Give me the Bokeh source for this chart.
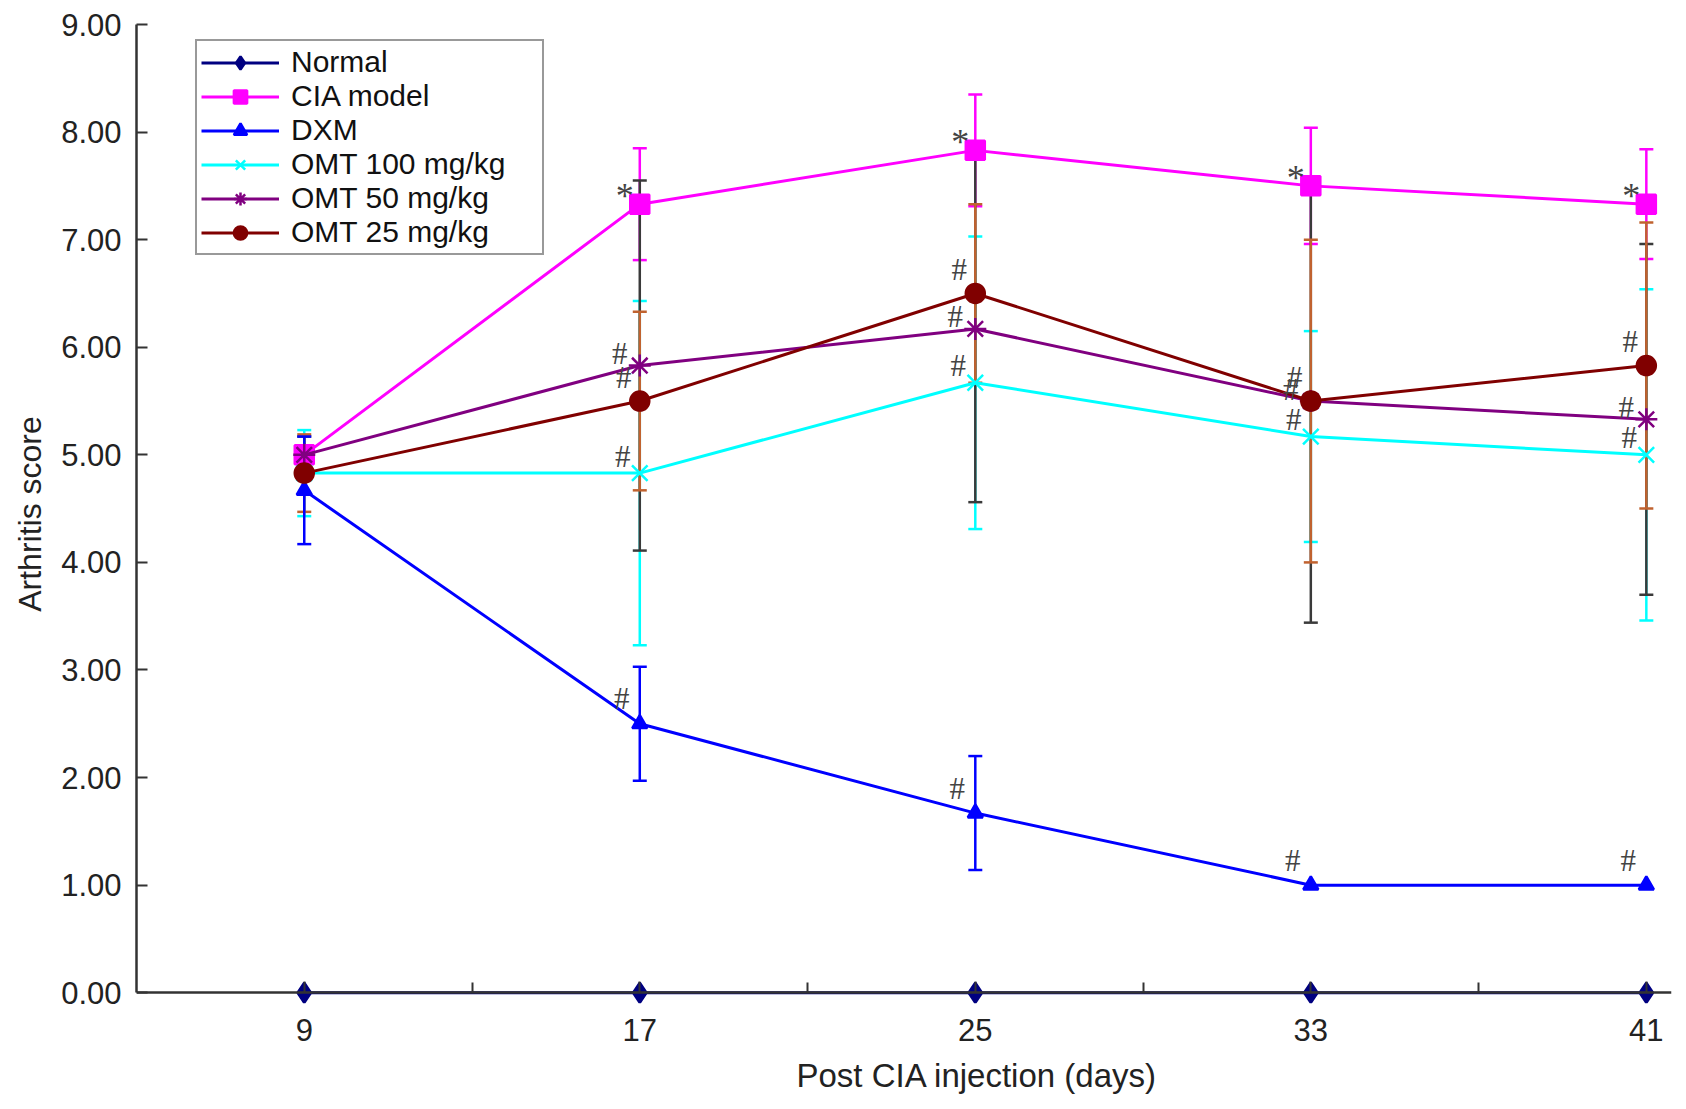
from bokeh.plotting import figure
from bokeh.models import (ColumnDataSource, Whisker, TeeHead, Legend, LegendItem,
                          FixedTicker, NumeralTickFormatter, Range1d, LinearAxis, Title)
from bokeh.core.properties import value
from bokeh.embed import file_html
from bokeh.resources import INLINE

# days after CIA injection
days = [9, 17, 25, 33, 41]
x_minor_ticks = [13, 21, 29, 37]
y_ticks = [0, 1, 2, 3, 4, 5, 6, 7, 8, 9]

# mean arthritis score and SD per group
normal = [0.0, 0.0, 0.0, 0.0, 0.0]
normal_sd = [0.0, 0.0, 0.0, 0.0, 0.0]
cia = [5.0, 7.33, 7.83, 7.5, 7.33]
cia_sd = [0.0, 0.52, 0.52, 0.54, 0.51]
dxm = [4.67, 2.5, 1.67, 1.0, 1.0]
dxm_sd = [0.5, 0.53, 0.53, 0.0, 0.0]
omt100 = [4.83, 4.83, 5.67, 5.17, 5.0]
omt100_sd = [0.4, 1.6, 1.36, 0.98, 1.54]
omt50 = [5.0, 5.83, 6.17, 5.5, 5.33]
omt50_sd = [0.17, 1.72, 1.61, 2.06, 1.63]
omt25 = [4.83, 5.5, 6.5, 5.5, 5.83]
omt25_sd = [0.36, 0.83, 0.83, 1.5, 1.33]

# significance marks
cia_sig = ["", "*", "*", "*", "*"]
dxm_sig = ["", "#", "#", "#", "#"]
omt100_sig = ["", "#", "#", "#", "#"]
omt50_sig = ["", "#", "#", "#", "#"]
omt25_sig = ["", "#", "#", "#", "#"]

FONT = "Liberation Sans"
AXIS_COLOR = "#333333"
TEXT_COLOR = "#222222"

p = figure(width=1678, height=1107, output_backend="svg", toolbar_location=None,
           x_range=Range1d(5, 41.6), y_range=Range1d(-0.1, 9),
           min_border_left=136, min_border_right=7, min_border_top=24,
           min_border_bottom=104)
p.outline_line_color = None
p.xgrid.visible = False
p.ygrid.visible = False
p.background_fill_color = "white"
xa = p.xaxis[0]
ya = p.yaxis[0]


def err_bars(vals, sds, color):
    xs, up, lo = [], [], []
    for d, v, s in zip(days, vals, sds):
        if s > 0:
            xs.append(d)
            up.append(v + s)
            lo.append(v - s)
    src = ColumnDataSource(data=dict(x=xs, upper=up, lower=lo))
    w = Whisker(source=src, base="x", upper="upper", lower="lower",
                line_color=color, line_width=2.5,
                upper_head=TeeHead(size=14, line_color=color, line_width=2.5),
                lower_head=TeeHead(size=14, line_color=color, line_width=2.5))
    p.add_layout(w)


# error bars, bottom to top
err_bars(cia, cia_sd, "#FF00FF")
err_bars(omt100, omt100_sd, "#00FFFF")
err_bars(omt50, omt50_sd, "#3A3A3A")
err_bars(omt25, omt25_sd, "#C0622F")
err_bars(dxm, dxm_sd, "#0000FF")

groups = [
    ("Normal", normal, "#000080", "diamond", 20),
    ("CIA model", cia, "#FF00FF", "square", 19),
    ("DXM", dxm, "#0000FF", "triangle", 15),
    ("OMT 100 mg/kg", omt100, "#00FFFF", "x", 22),
    ("OMT 50 mg/kg", omt50, "#800080", "asterisk", 22),
    ("OMT 25 mg/kg", omt25, "#800000", "circle", 19),
]

items = []
for name, vals, color, marker, size in groups:
    src = ColumnDataSource(data=dict(x=days, y=vals))
    ln = p.line("x", "y", source=src, line_color=color, line_width=3)
    sc = p.scatter("x", "y", source=src, marker=marker, size=size,
                   fill_color=color, line_color=color, line_width=2.5)
    items.append(LegendItem(label=name, renderers=[ln, sc]))


def sig_marks(vals, sig, dx, dy, size):
    xs = [d for d, s in zip(days, sig) if s]
    ys = [v for v, s in zip(vals, sig) if s]
    ts = [s for s in sig if s]
    src = ColumnDataSource(data=dict(x=xs, y=ys, t=ts))
    p.text("x", "y", text="t", source=src, x_offset=dx, y_offset=dy,
           text_font=value("Liberation Serif"), text_font_size=size,
           text_color="#444444", text_align="center", text_baseline="middle")


sig_marks(cia, cia_sig, -15, -8, "36px")
sig_marks(dxm, dxm_sig, -18, -25, "31px")
sig_marks(omt100, omt100_sig, -17, -17, "31px")
sig_marks(omt50, omt50_sig, -20, -12, "31px")
sig_marks(omt25, omt25_sig, -16, -24, "31px")

legend = Legend(items=items, location=(59, 748), spacing=0, padding=4, margin=0,
                glyph_width=78, glyph_height=33, label_height=33, label_width=247,
                label_standoff=12,
                label_text_font=FONT, label_text_font_size="30px",
                label_text_color="#111111",
                border_line_color="#333333", border_line_width=2.5,
                background_fill_color="white", background_fill_alpha=1.0)
p.add_layout(legend)

# x axis: labels at the frame bottom, line and ticks drawn at y = 0
xa.ticker = FixedTicker(ticks=days)
xa.axis_line_color = None
xa.major_tick_line_color = None
xa.minor_tick_line_color = None
xa.major_tick_in = 0
xa.major_tick_out = 0
xa.minor_tick_in = 0
xa.minor_tick_out = 0
xa.major_label_standoff = 15
xa.major_label_text_font = FONT
xa.major_label_text_font_size = "31px"
xa.major_label_text_color = TEXT_COLOR

x0 = LinearAxis(fixed_location=0, bounds=(5, 41.6),
                ticker=FixedTicker(ticks=days, minor_ticks=x_minor_ticks))
x0.axis_line_color = AXIS_COLOR
x0.axis_line_width = 2.5
x0.major_tick_line_color = AXIS_COLOR
x0.major_tick_line_width = 2
x0.minor_tick_line_color = AXIS_COLOR
x0.minor_tick_line_width = 2
x0.major_tick_in = 0
x0.major_tick_out = 11
x0.minor_tick_in = 0
x0.minor_tick_out = 10
x0.major_label_standoff = 0
x0.major_label_text_font_size = "1px"
x0.major_label_text_color = None
p.add_layout(x0, "above")

# x axis title, centred under day 25 as in the original
p.add_layout(Title(text="Post CIA injection (days)", align="left", offset=660,
                   vertical_align="middle", standoff=24,
                   text_font=FONT, text_font_size="33px", text_font_style="normal",
                   text_color=TEXT_COLOR), "below")

ya.bounds = (0, 9)
ya.ticker = FixedTicker(ticks=y_ticks)
ya.formatter = NumeralTickFormatter(format="0.00")
ya.axis_label = "Arthritis score"
ya.major_label_standoff = 15
ya.axis_label_standoff = 10
ya.axis_line_color = AXIS_COLOR
ya.axis_line_width = 2.5
ya.major_tick_line_color = AXIS_COLOR
ya.major_tick_line_width = 2
ya.minor_tick_line_color = None
ya.major_tick_in = 11
ya.major_tick_out = 0
ya.major_label_text_font = FONT
ya.major_label_text_font_size = "31px"
ya.major_label_text_color = TEXT_COLOR
ya.axis_label_text_font = FONT
ya.axis_label_text_font_size = "32px"
ya.axis_label_text_font_style = "normal"
ya.axis_label_text_color = TEXT_COLOR

open("out.html", "w").write(file_html(p, INLINE))
